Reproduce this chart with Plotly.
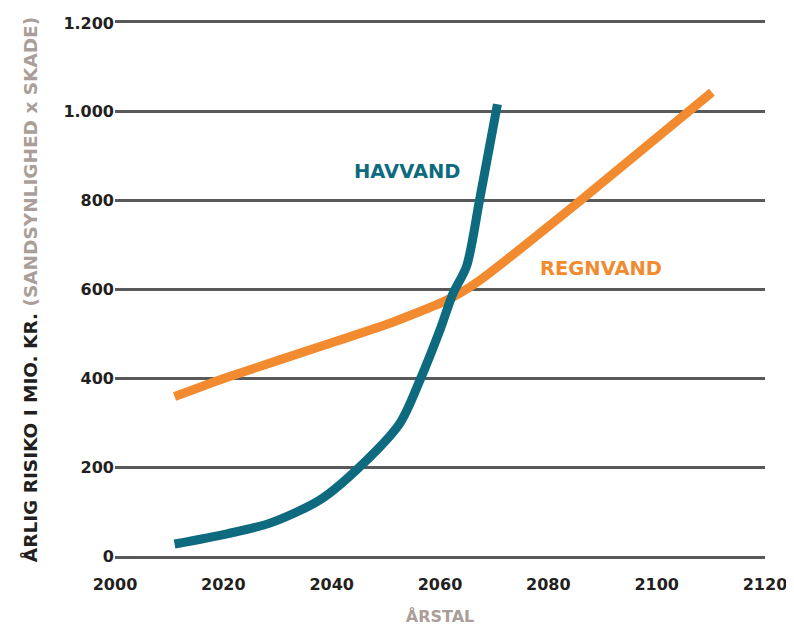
import plotly.graph_objects as go

havvand_years = [2011, 2020.7, 2028.6, 2037.8, 2045.2, 2052.6, 2056.3, 2060, 2062.4,
                 2064.9, 2067.3, 2070.6]
havvand_vals = [27, 50, 74, 126, 201, 299, 396, 509, 591,
                652, 801, 1017]

regnvand_years = [2011, 2020.6, 2039, 2051.4, 2060.6, 2064, 2067.4, 2086, 2110.2]
regnvand_vals = [359, 402, 476, 527, 572, 594, 621, 801, 1044]

x_ticks = [2000, 2020, 2040, 2060, 2080, 2100, 2120]
y_ticks = [0, 200, 400, 600, 800, 1000, 1200]

TEAL = "#0d6a7f"
ORANGE = "#f28a2f"
DARK = "#231f20"
GREY = "#a99e98"
GRID = "#58595b"
FONT = "DejaVu Sans"

fig = go.Figure()
fig.add_trace(go.Scatter(x=regnvand_years, y=regnvand_vals, mode="lines",
                         line=dict(color=ORANGE, width=9, shape="spline", smoothing=0.5),
                         cliponaxis=False, showlegend=False))
fig.add_trace(go.Scatter(x=havvand_years, y=havvand_vals, mode="lines",
                         line=dict(color=TEAL, width=9, shape="spline", smoothing=0.8),
                         cliponaxis=False, showlegend=False))

fig.add_annotation(x=2054, y=866, text="HAVVAND", showarrow=False,
                   font=dict(family=FONT, size=19.5, color=TEAL, weight="bold"))
fig.add_annotation(x=2089.7, y=648, text="REGNVAND", showarrow=False,
                   font=dict(family=FONT, size=19.5, color=ORANGE, weight="bold"))

fig.update_layout(
    width=786, height=622,
    margin=dict(l=107, r=29, t=15, b=74, autoexpand=False),
    paper_bgcolor="white", plot_bgcolor="white",
    separators=",.",
    font=dict(family=FONT, color=DARK, size=16, weight="bold"),
    xaxis=dict(range=[2000, 2120], tickvals=x_ticks, showgrid=False, zeroline=False,
               showline=True, mirror=True, linecolor=GRID, linewidth=2.5,
               ticks="", ticklabelstandoff=12, automargin=False,
               tickfont=dict(family=FONT, size=16, weight="bold", color=DARK),
               title=dict(text="ÅRSTAL", font=dict(family=FONT, size=16, color=GREY, weight="bold"),
                          standoff=18)),
    yaxis=dict(range=[0, 1200], tickvals=y_ticks, tickformat=",d", showgrid=True,
               gridcolor=GRID, gridwidth=2.5, zeroline=False, showline=False, ticks="",
               automargin=False,
               tickfont=dict(family=FONT, size=16, weight="bold", color=DARK),
               title=dict(text="ÅRLIG RISIKO I MIO. KR. <span style='color:%s'>(SANDSYNLIGHED x SKADE)</span>" % GREY,
                          font=dict(family=FONT, size=18.5, color=DARK, weight="bold"), standoff=20)),
)

fig.write_html("out.html")
